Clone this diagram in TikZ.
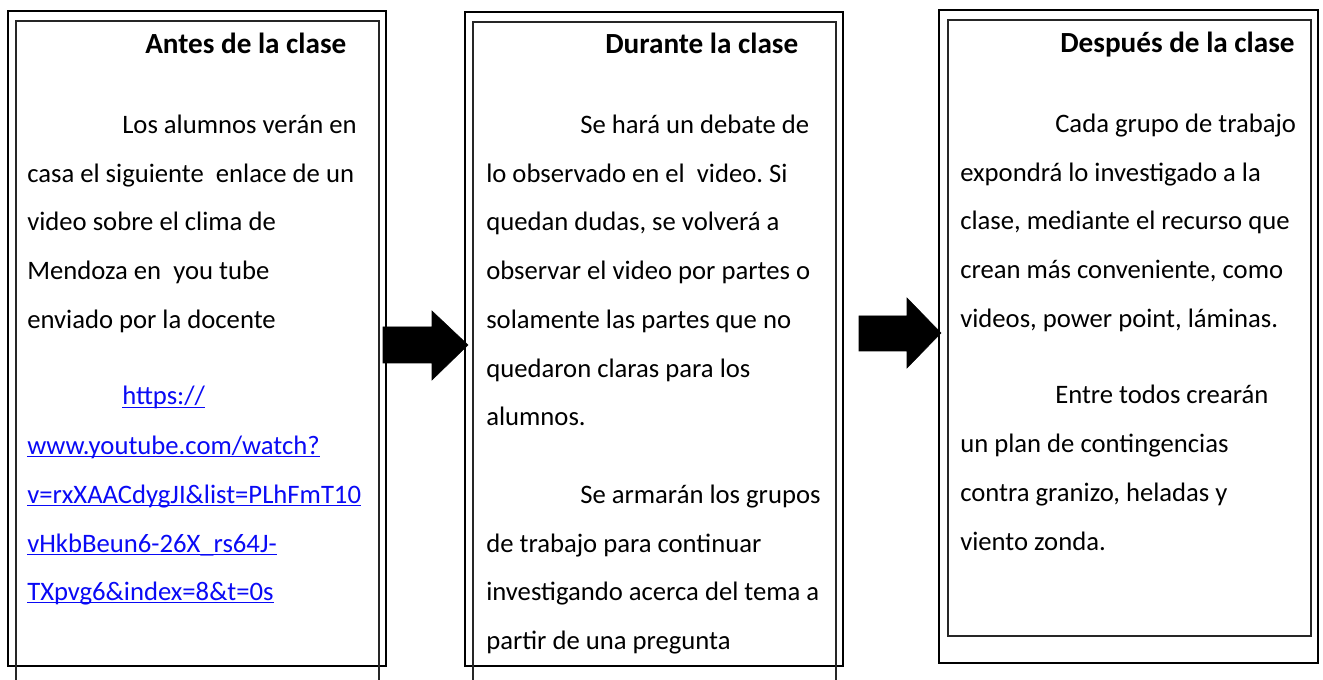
\documentclass[tikz,border=0pt]{standalone}
\usepackage{fontspec}
\setmainfont{Carlito}
\frenchspacing
\newcommand{\ulink}[1]{{\color{linkblue}\setbox0\hbox{#1}\rlap{\rule[-2.6pt]{\wd0}{0.75pt}}\box0}}
\definecolor{linkblue}{RGB}{10,10,245}
\begin{document}
\begin{tikzpicture}[x=0.75pt,y=-0.75pt,
  outerbox/.style={draw=black,line width=1.6pt,fill=white},
  innerbox/.style={draw=black!85,line width=1.1pt},
  bodytxt/.style={anchor=base west,inner sep=0pt,font=\fontsize{20}{24}\selectfont},
  titletxt/.style={anchor=base west,inner sep=0pt,font=\bfseries\fontsize{21.9}{26}\selectfont},
  blockarrow/.style={fill=black,draw=black,line width=0.4pt}]
\useasboundingbox (0,0) rectangle (1323,680);
\begin{scope}
\clip (0,0) rectangle (1323,680);
% boxes
\draw[outerbox] (8,11) rectangle (386,666);
\draw[innerbox] (16,21) rectangle (379,700);
\draw[outerbox] (465,12) rectangle (843,666);
\draw[innerbox] (473,22) rectangle (836,700);
\draw[outerbox] (939,10) rectangle (1318,663);
\draw[innerbox] (948,20) rectangle (1311,636);
\end{scope}
% box 1
\node[titletxt] (t1) at (145,54) {Antes de la clase};
\node[bodytxt] (a1) at (122,134) {Los alumnos verán en};
\node[bodytxt] (a2) at (27,183) {casa el siguiente\ \ enlace de un};
\node[bodytxt] (a3) at (27,231) {video sobre el clima de};
\node[bodytxt] (a4) at (27,280) {Mendoza en\ \ you tube};
\node[bodytxt] (a5) at (27,329) {enviado por la docente};
\node[bodytxt] (a6) at (122,405) {\ulink{https://}};
\node[bodytxt] (a7) at (27,454) {\ulink{www.youtube.com/watch?}};
\node[bodytxt] (a8) at (27,503) {\ulink{v=rxXAACdygJI\&list=PLhFmT10}};
\node[bodytxt] (a9) at (27,552) {\ulink{vHkbBeun6-26X\_rs64J-}};
\node[bodytxt] (a10) at (27,600) {\ulink{TXpvg6\&index=8\&t=0s}};
% box 2
\node[titletxt] (t2) at (605,54) {Durante la clase};
\node[bodytxt] (b1) at (580,134) {Se hará un debate de};
\node[bodytxt] (b2) at (486,183) {lo observado en el\ \ video. Si};
\node[bodytxt] (b3) at (486,231) {quedan dudas, se volverá a};
\node[bodytxt] (b4) at (486,280) {observar el video por partes o};
\node[bodytxt] (b5) at (486,329) {solamente las partes que no};
\node[bodytxt] (b6) at (486,378) {quedaron claras para los};
\node[bodytxt] (b7) at (486,426) {alumnos.};
\node[bodytxt] (b8) at (580,503) {Se armarán los grupos};
\node[bodytxt] (b9) at (486,552) {de trabajo para continuar};
\node[bodytxt] (b10) at (486,600) {investigando acerca del tema a};
\node[bodytxt] (b11) at (486,649) {partir de una pregunta};
% box 3
\node[titletxt] (t3) at (1060,53) {Después de la clase};
\node[bodytxt] (c1) at (1055,133) {Cada grupo de trabajo};
\node[bodytxt] (c2) at (960,182) {expondrá lo investigado a la};
\node[bodytxt] (c3) at (960,230) {clase, mediante el recurso que};
\node[bodytxt] (c4) at (960,279) {crean más conveniente, como};
\node[bodytxt] (c5) at (960,328) {videos, power point, láminas.};
\node[bodytxt] (c6) at (1055,403) {Entre todos crearán};
\node[bodytxt] (c7) at (960,452) {un plan de contingencias};
\node[bodytxt] (c8) at (960,501) {contra granizo, heladas y};
\node[bodytxt] (c9) at (960,550) {viento zonda.};
% arrows
\draw[blockarrow] (383,327) -- (432,327) -- (432,311) -- (468,345) -- (432,380) -- (432,363) -- (383,363) -- cycle;
\draw[blockarrow] (859,316) -- (907,316) -- (907,298) -- (941,333) -- (907,368) -- (907,351) -- (859,351) -- cycle;
\end{tikzpicture}
\end{document}
